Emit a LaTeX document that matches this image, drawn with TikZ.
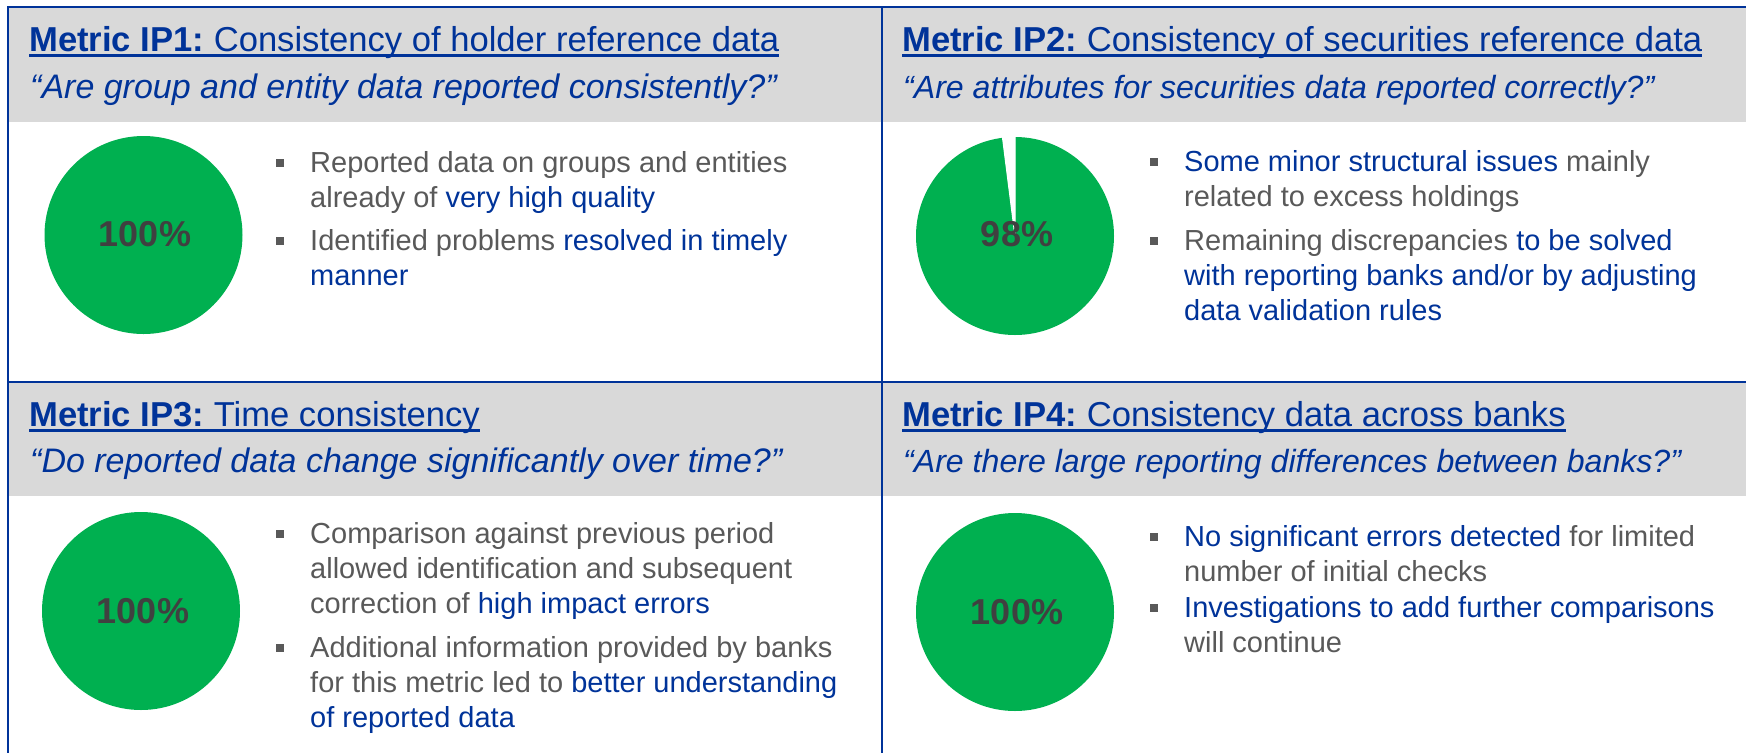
\documentclass[tikz,border=0pt]{standalone}
\usepackage{fontspec}
\setmainfont{Liberation Sans}
\frenchspacing
\definecolor{ecbblue}{RGB}{0,51,153}
\definecolor{txtgray}{RGB}{89,89,89}
\definecolor{pctgray}{RGB}{64,64,64}
\definecolor{hdrgray}{RGB}{217,217,217}
\definecolor{pgreen}{RGB}{0,176,80}
\newcommand\hl[1]{\textcolor{ecbblue}{#1}}
\newcommand\blk[1]{\vtop{\baselineskip=35pt\lineskiplimit=-100pt\lineskip=0pt #1}}
\begin{document}
\begin{tikzpicture}[x=1pt,y=-1pt,
  title/.style={inner sep=0pt, anchor=base west, text=ecbblue, font=\fontsize{34.6}{41}\selectfont},
  subt/.style={inner sep=0pt, anchor=base west, text=ecbblue, font=\fontsize{34}{41}\selectfont\itshape},
  subtsmall/.style={subt, font=\fontsize{32.1}{39}\selectfont\itshape},
  body/.style={inner sep=0pt, anchor=base west, text=txtgray, font=\fontsize{29}{35}\selectfont},
  bsq/.style={rectangle, fill=txtgray, minimum size=8pt, inner sep=0pt},
  pie/.style={circle, fill=pgreen, minimum size=198pt, inner sep=0pt},
  pct/.style={inner sep=0pt, text=pctgray, font=\fontsize{36}{43}\selectfont\bfseries},
  frame/.style={draw=ecbblue, line width=2.5pt},
  uline/.style={draw=ecbblue, line width=2.2pt}]
\useasboundingbox (0,0) rectangle (1746,753);
% header bands
\fill[hdrgray] (8,7) rectangle (1746,122);
\fill[hdrgray] (8,382) rectangle (1746,496);
% frame
\coordinate (tl) at (8,7);
\coordinate (tr) at (1746,7);
\coordinate (bl) at (8,753);
\coordinate (mt) at (882,7);
\coordinate (mb) at (882,753);
\coordinate (ml) at (8,382);
\coordinate (mr) at (1746,382);
\draw[frame] (tr) -- (tl) -- (bl);
\draw[frame] (mt) -- (mb);
\draw[frame] (ml) -- (mr);

% titles
\node[title] (t1) at (29,51) {\textbf{Metric IP1:} Consistency of holder reference data};
\node[title] (t2) at (902,51) {\textbf{Metric IP2:} Consistency of securities reference data};
\node[title] (t3) at (29,426) {\textbf{Metric IP3:} Time consistency};
\node[title] (t4) at (902,426) {\textbf{Metric IP4:} Consistency data across banks};
\foreach \t in {t1,t2,t3,t4}
  \draw[uline] ([yshift=-4.5pt]\t.base west) -- ([yshift=-4.5pt]\t.base east);

\node[subt] (s1) at (30,98) {“Are group and entity data reported consistently?”};
\node[subtsmall] (s2) at (903,98) {“Are attributes for securities data reported correctly?”};
\node[subt] (s3) at (30,472) {“Do reported data change significantly over time?”};
\node[subtsmall] (s4) at (903,472) {“Are there large reporting differences between banks?”};

% pies
\node[pie] (c1) at (143.5,235) {};
\node[pie] (c2) at (1015,236) {};
\node[pie] (c3) at (141,611) {};
\node[pie] (c4) at (1015,612) {};
\fill[white, draw=white, line width=1.2pt] (c2.center) -- ++(90:100pt) arc[start angle=90, end angle=97.2, radius=100pt] -- cycle;
\node[pct] (p1) at (145,234) {100\%};
\node[pct] (p2) at (1017,234) {98\%};
\node[pct] (p3) at (143,611) {100\%};
\node[pct] (p4) at (1017,612) {100\%};

% bullets IP1
\node[body] (b11) at (310,172) {\blk{\hbox{Reported data on groups and entities}\hbox{already of \hl{very high quality}}}};
\node[body] (b12) at (310,250) {\blk{\hbox{Identified problems \hl{resolved in timely}}\hbox{\hl{manner}}}};
% bullets IP2
\node[body] (b21) at (1184,171) {\blk{\hbox{\hl{Some minor structural issues} mainly}\hbox{related to excess holdings}}};
\node[body] (b22) at (1184,250) {\blk{\hbox{Remaining discrepancies \hl{to be solved}}\hbox{\hl{with reporting banks and/or by adjusting}}\hbox{\hl{data validation rules}}}};
% bullets IP3
\node[body] (b31) at (310,543) {\blk{\hbox{Comparison against previous period}\hbox{allowed identification and subsequent}\hbox{correction of \hl{high impact errors}}}};
\node[body] (b32) at (310,657) {\blk{\hbox{Additional information provided by banks}\hbox{for this metric led to \hl{better understanding}}\hbox{\hl{of reported data}}}};
% bullets IP4
\node[body] (b41) at (1184,546) {\blk{\hbox{\hl{No significant errors detected} for limited}\hbox{number of initial checks}}};
\node[body] (b42) at (1184,617) {\blk{\hbox{\hl{Investigations to add further comparisons}}\hbox{will continue}}};

\foreach \b in {b11,b12,b21,b22,b31,b32,b41,b42}
  \node[bsq] (q\b) at ([xshift=-30pt,yshift=9pt]\b.base west) {};
\end{tikzpicture}
\end{document}
